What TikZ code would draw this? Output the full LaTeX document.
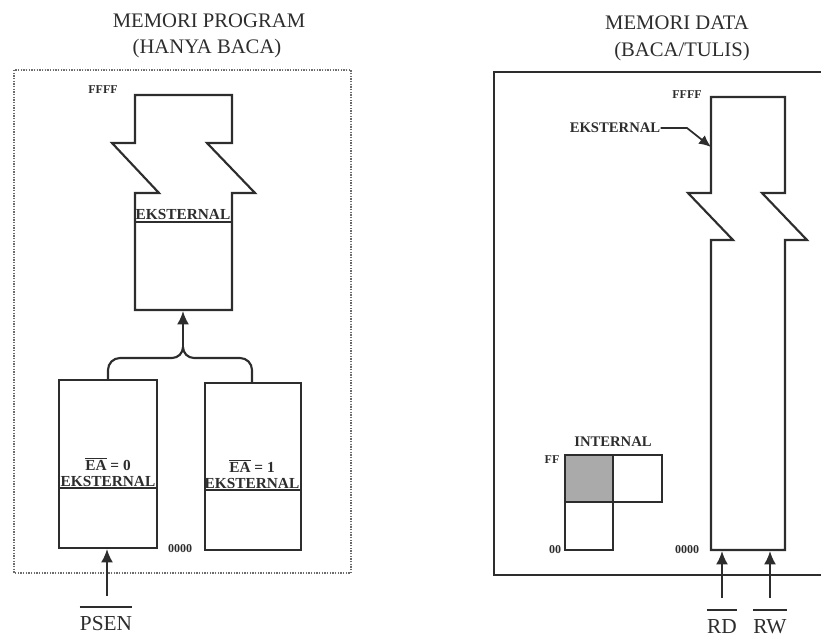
\documentclass[tikz,border=0pt]{standalone}
\usepackage{fontspec}
\setmainfont{Liberation Serif}
\usetikzlibrary{arrows.meta}

\begin{document}
\begin{tikzpicture}[x=0.75pt,y=-0.75pt]

\definecolor{c_line}{RGB}{45,45,45}
\definecolor{c_shade}{RGB}{170,170,170}

\tikzset{
  mem/.style={draw=c_line, line width=1.6pt},
  frame/.style={draw=c_line!70, line width=1pt, densely dotted},
  head/.style={inner sep=0pt, text=c_line, font=\fontsize{15.5}{16}\selectfont},
  lbl/.style={inner sep=0pt, text=c_line, font=\bfseries\fontsize{11.5}{12}\selectfont},
  hex/.style={inner sep=0pt, text=c_line, font=\bfseries\fontsize{9}{10}\selectfont},
  sig/.style={draw=c_line, line width=1.6pt, -{Latex[length=10pt,width=9pt]}},
  bar/.style={draw=c_line, line width=1.4pt}
}

\useasboundingbox (0,0) rectangle (821,638);

% Titles
\node (progtitle) at (209,21) [head] {MEMORI PROGRAM};
\node (progsub) at (207,49) [head] {(HANYA BACA)};
\node (datatitle) at (677,23) [head] {MEMORI DATA};
\node (datasub) at (682,52) [head] {(BACA/TULIS)};

%%%%%%%%%%%%%%%%%%%%%%%%%%%%%%%%%%%%%%
% Program memory
%%%%%%%%%%%%%%%%%%%%%%%%%%%%%%%%%%%%%%
\draw[frame] (14,70) rectangle (351,573);

% External block, broken
\draw[mem] (135,310) -- (135,193) -- (159,193) -- (112,143) -- (135,143)
  -- (135,95) -- (232,95) -- (232,143) -- (207,143) -- (255,193)
  -- (232,193) -- (232,310) -- cycle;
\draw[mem] (135,222) -- (232,222);
\node (progext) at (183,214) [lbl] {EKSTERNAL};
\node (progffff) at (103,90) [hex] {FFFF};
\coordinate (progin) at (183,311);

% Lower blocks
\draw[mem] (59,380) rectangle (157,548);
\draw[mem] (59,488) -- (157,488);
\node (ea0) at (108,464) [lbl] {$\overline{\mbox{\bfseries EA}}$ = 0};
\node (ext0) at (108,481) [lbl] {EKSTERNAL};

\draw[mem] (205,383) rectangle (301,550);
\draw[mem] (205,490) -- (301,490);
\node (ea1) at (252,466) [lbl] {$\overline{\mbox{\bfseries EA}}$ = 1};
\node (ext1) at (252,483) [lbl] {EKSTERNAL};

\node (prog0000) at (180,549) [hex] {0000};

% Join of the two blocks
\coordinate (joinl) at (108,380);
\coordinate (joinr) at (252,383);
\coordinate (joinm) at (183,347);
\draw[mem] (joinl) -- (108,370) to[out=90,in=180] (120,358) -- (172,358)
  to[out=0,in=-90] (joinm);
\draw[mem] (joinr) -- (252,370) to[out=90,in=0] (240,358) -- (194,358)
  to[out=180,in=-90] (joinm);
\draw[sig] (joinm) -- (progin);

% PSEN
\node (psen) at (106,624) [font=\fontsize{16}{16}\selectfont, inner sep=0pt, text=c_line] {PSEN};
\coordinate (psenin) at (107,549);
\draw[bar] ([yshift=7pt]psen.north west) -- ([yshift=7pt]psen.north east);
\draw[sig] (107,596) -- (psenin);

%%%%%%%%%%%%%%%%%%%%%%%%%%%%%%%%%%%%%%
% Data memory
%%%%%%%%%%%%%%%%%%%%%%%%%%%%%%%%%%%%%%
\draw[mem] (821,72) -- (494,72) -- (494,575) -- (821,575);

% External block, broken
\draw[mem] (711,550) -- (711,240) -- (733,240) -- (688,193) -- (711,193)
  -- (711,97) -- (785,97) -- (785,193) -- (762,193) -- (807,240)
  -- (785,240) -- (785,550) -- cycle;
\node (dataffff) at (687,95) [hex] {FFFF};
\node (data0000) at (687,550) [hex] {0000};

\node (dataext) at (615,128) [lbl, font=\bfseries\fontsize{11}{12}\selectfont] {EKSTERNAL};
\coordinate (dataextin) at (711,147);
\draw[draw=c_line, line width=1.3pt, -{Latex[length=9pt,width=8pt]}]
  (dataext.east) -- (687,128) -- (dataextin);

% Internal block
\fill[c_shade] (565,455) rectangle (613,502);
\draw[mem] (565,455) rectangle (662,502);
\draw[mem] (565,455) rectangle (613,550);
\node (internal) at (613,442) [lbl, font=\bfseries\fontsize{11}{12}\selectfont] {INTERNAL};
\node (dataff) at (552,460) [hex] {FF};
\node (data00) at (555,550) [hex] {00};

% RD and RW
\foreach \name/\x in {rd/722, rw/770} {
  \coordinate (\name in) at (\x,551);
  \node (\name) at (\x,627) [font=\fontsize{16}{16}\selectfont, inner sep=0pt, text=c_line] {\MakeUppercase{\name}};
  \draw[bar] ([yshift=7pt]\name.north west) -- ([yshift=7pt]\name.north east);
  \draw[sig] (\x,598) -- (\name in);
}

\end{tikzpicture}
\end{document}
